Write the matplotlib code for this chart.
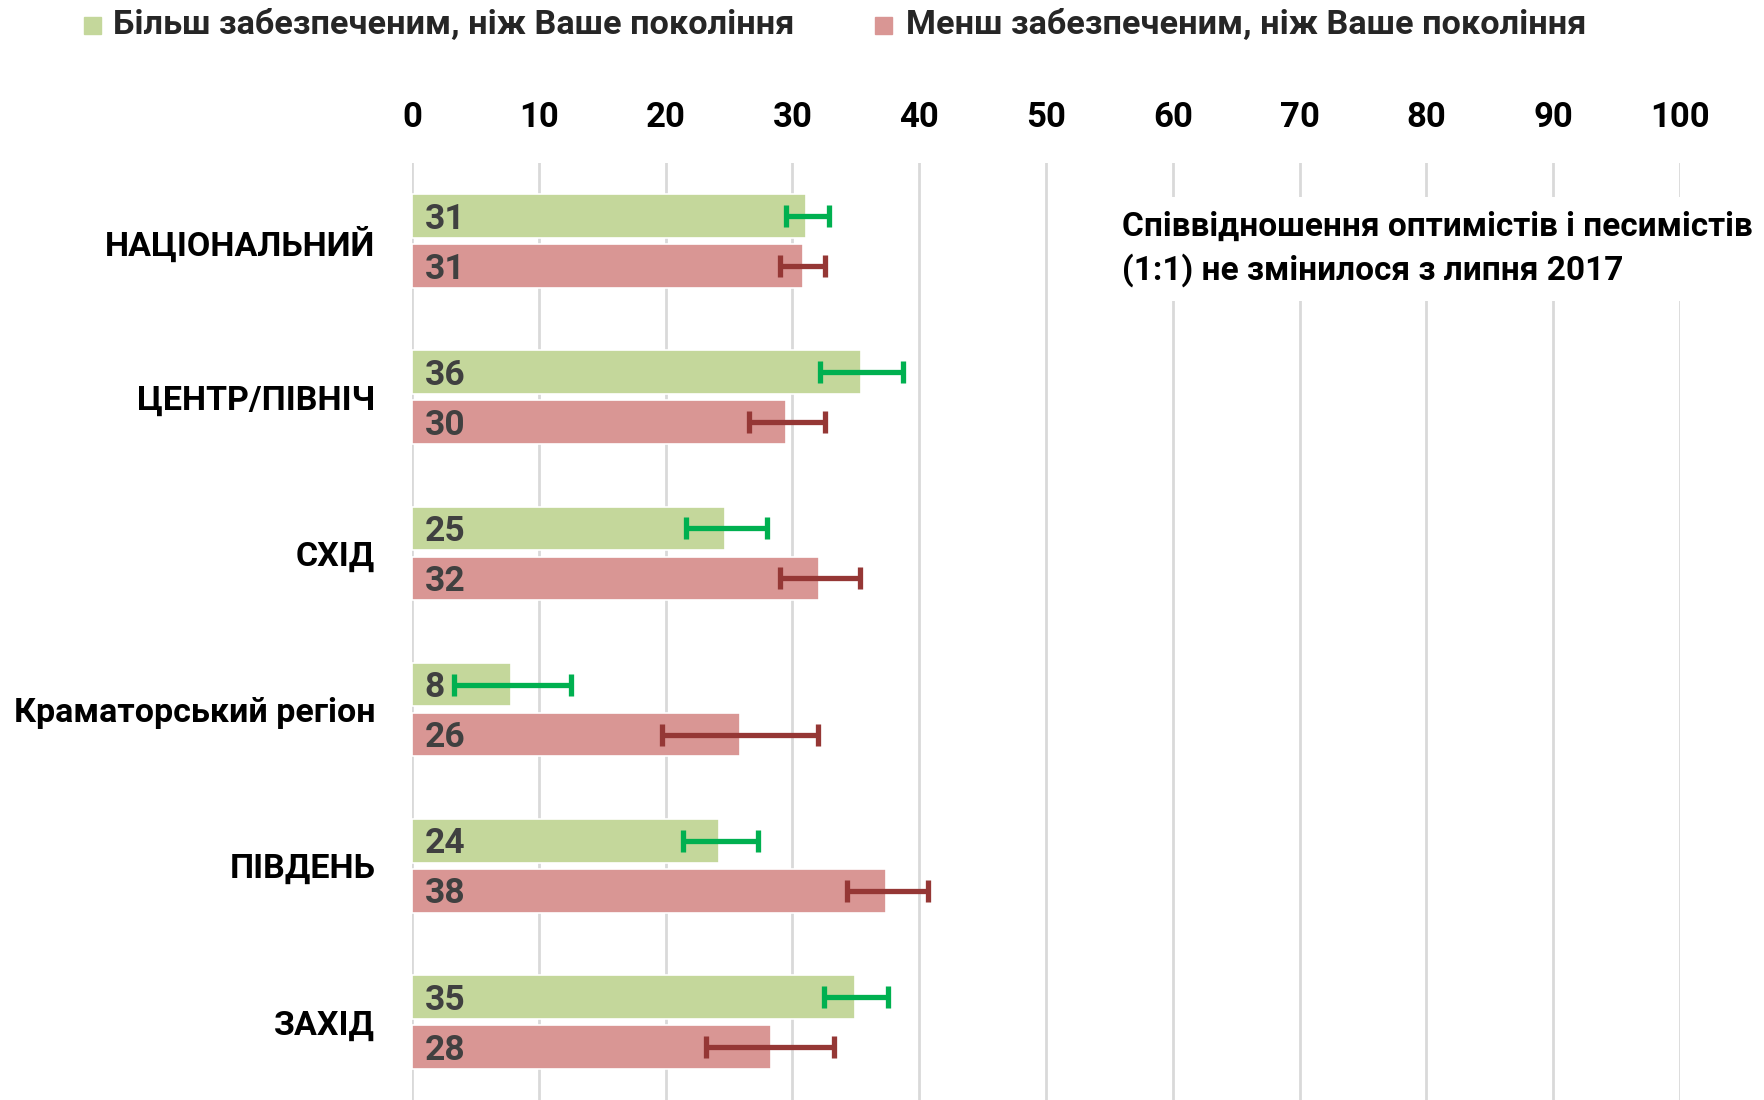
import numpy as np
import matplotlib
matplotlib.use('Agg')
import matplotlib.pyplot as plt
from matplotlib.patches import Rectangle

plt.rcParams['font.family'] = ['Roboto', 'DejaVu Sans']
plt.rcParams['font.weight'] = 'bold'

# data
regions = ['НАЦІОНАЛЬНИЙ', 'ЦЕНТР/ПІВНІЧ', 'СХІД', 'Краматорський регіон', 'ПІВДЕНЬ', 'ЗАХІД']
better = [31.1, 35.4, 24.7, 7.8, 24.2, 34.9]
worse = [30.8, 29.5, 32.1, 25.9, 37.4, 28.3]
better_lbl = [31, 36, 25, 8, 24, 35]
worse_lbl = [31, 30, 32, 26, 38, 28]
better_lo = [29.5, 32.2, 21.6, 3.3, 21.4, 32.5]
better_hi = [32.9, 38.7, 28.0, 12.5, 27.3, 37.5]
worse_lo = [29.0, 26.6, 29.0, 19.7, 34.3, 23.2]
worse_hi = [32.6, 32.6, 35.3, 32.0, 40.7, 33.3]
xticks = [0, 10, 20, 30, 40, 50, 60, 70, 80, 90, 100]
legend_names = ['Більш забезпеченим, ніж Ваше покоління', 'Менш забезпеченим, ніж Ваше покоління']
note = 'Співвідношення оптимістів і песимістів\n(1:1) не змінилося з липня 2017'

c_green = '#C4D79B'
c_red = '#D99694'
e_green = '#00B050'
e_red = '#953735'
txt = '#404040'

fig = plt.figure(figsize=(17.64, 11), dpi=100)
ax = fig.add_axes([412/1764, 0, (1680-412)/1764, 1-163/1100])

y = np.arange(len(regions))
yg = y - 0.16
yr = y + 0.16
h = 0.28

ax.barh(yg, better, height=h, color=c_green, edgecolor='white', linewidth=1.2, zorder=2)
ax.barh(yr, worse, height=h, color=c_red, edgecolor='white', linewidth=1.2, zorder=2)

b = np.array(better); w = np.array(worse)
ax.errorbar(b, yg, xerr=[b - np.array(better_lo), np.array(better_hi) - b], fmt='none',
            ecolor=e_green, elinewidth=3.8, capsize=8, capthick=3.8, zorder=3)
ax.errorbar(w, yr, xerr=[w - np.array(worse_lo), np.array(worse_hi) - w], fmt='none',
            ecolor=e_red, elinewidth=3.8, capsize=8, capthick=3.8, zorder=3)

for i in range(len(regions)):
    ax.text(1.0, yg[i] + 0.02, str(better_lbl[i]), color=txt, fontsize=25.5, fontweight='bold', va='center', ha='left', zorder=4)
    ax.text(1.0, yr[i] + 0.02, str(worse_lbl[i]), color=txt, fontsize=25.5, fontweight='bold', va='center', ha='left', zorder=4)

ax.set_xlim(0, 100)
ax.set_ylim(5.5, -0.5)
ax.set_xticks(xticks)
ax.xaxis.tick_top()
ax.tick_params(axis='x', length=0, pad=21, labelsize=25, labelcolor='black')
ax.set_yticks(y)
ax.set_yticklabels(regions, fontsize=24.5, fontweight='bold')
ax.tick_params(axis='y', length=0, pad=26.5)
ax.grid(axis='x', color='#D9D9D9', linewidth=2, zorder=0)
ax.set_axisbelow(True)
for s in ax.spines.values():
    s.set_visible(False)

ax.text(56, 0.05, note, fontsize=24, fontweight='bold', color='black', va='center', ha='left',
        linespacing=1.4, zorder=5,
        bbox=dict(facecolor='white', edgecolor='none', pad=10))

# legend
fig.patches.append(Rectangle((84/1764, 1-34/1100), 17/1764, 17/1100, transform=fig.transFigure, color=c_green))
fig.text(113/1764, 1-25/1100, legend_names[0], fontsize=24.7, fontweight='bold', va='center', color='#262626')
fig.patches.append(Rectangle((875/1764, 1-34/1100), 17/1764, 17/1100, transform=fig.transFigure, color=c_red))
fig.text(906/1764, 1-25/1100, legend_names[1], fontsize=24.7, fontweight='bold', va='center', color='#262626')

fig.savefig('out.png', dpi=100)
